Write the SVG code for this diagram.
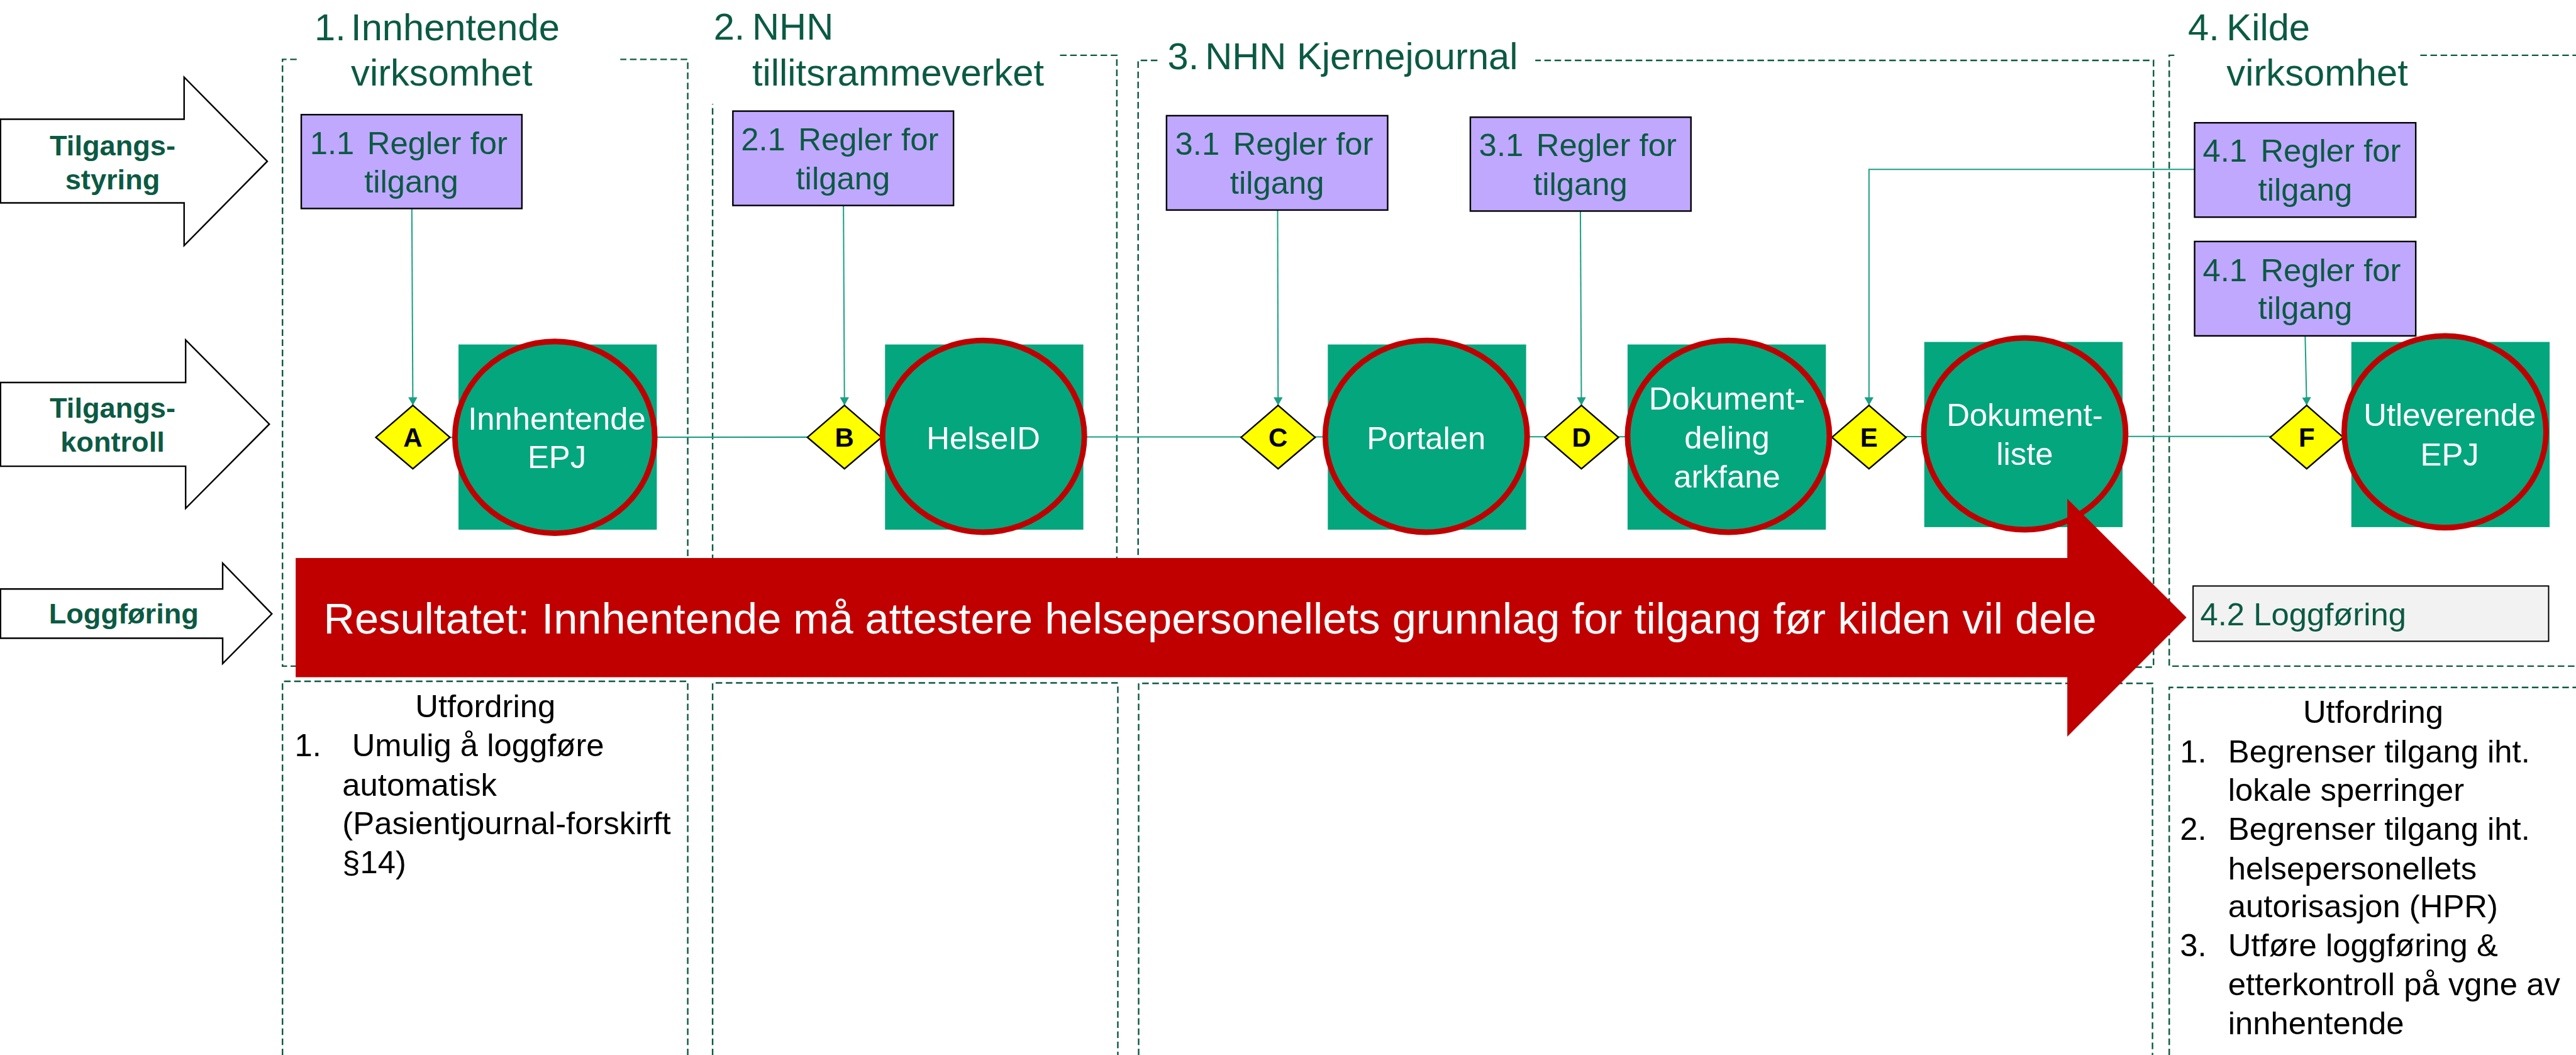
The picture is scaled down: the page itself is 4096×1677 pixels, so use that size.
<svg xmlns="http://www.w3.org/2000/svg" width="4096" height="1677" viewBox="0 0 4096 1677">
<defs>
<style>
.frame{fill:none;stroke:#0B5A43;stroke-width:3;stroke-dasharray:13 7}
.title{font-family:"Liberation Sans",Arial,sans-serif;font-size:74px;fill:#0B5A43}
.side{fill:#fff;stroke:#000;stroke-width:3}
.sidet{font-family:"Liberation Sans",Arial,sans-serif;font-size:56px;font-weight:bold;fill:#0B5A43;text-anchor:middle}
.rule{fill:#C0A8FF;stroke:#000;stroke-width:3}
.rulet{font-family:"Liberation Sans",Arial,sans-serif;font-size:63px;fill:#0B5A43}
.sq{fill:#04A67D}
.ell{fill:#04A67D;stroke:#C00000;stroke-width:11}
.nodet{font-family:"Liberation Sans",Arial,sans-serif;font-size:63px;fill:#fff;text-anchor:middle}
.dia{fill:#FFFF00;stroke:#000;stroke-width:3}
.diat{font-family:"Liberation Sans",Arial,sans-serif;font-size:52px;font-weight:bold;fill:#000;text-anchor:middle}
.conn{fill:none;stroke:#19A083;stroke-width:2.5}
.body{font-family:"Liberation Sans",Arial,sans-serif;font-size:63px;fill:#000}
</style>
<marker id="ah" markerUnits="userSpaceOnUse" markerWidth="16" markerHeight="18" viewBox="0 0 16 18" refX="16" refY="9" orient="auto">
<path d="M0,0 L16,9 L0,18 z" fill="#19A083"/>
</marker>
</defs>
<rect width="4096" height="1677" fill="#fff"/>
<g transform="scale(0.80646)">
<!-- frames -->
<g id="frames">
<path class="frame" d="M585,117 H557 V1313 H1356 V117 H1223"/>
<path class="frame" d="M2090,109 H2202 V1313 H1405 V205"/>
<path class="frame" d="M2282,119 H2244 V1315 H4246 V119 H3027"/>
<path class="frame" d="M4287,109 H4277 V1313 H5100 M4772,109 H5100"/>
<path class="frame" d="M557,2100 V1343 H1356 V2100"/>
<path class="frame" d="M1405,2100 V1346 H2204 V2100"/>
<path class="frame" d="M2245,2100 V1347 H4244 V2100"/>
<path class="frame" d="M4277,2100 V1355 H5100"/>
</g>
<g id="titles">
<text class="title"><tspan x="620" y="79">1.</tspan><tspan x="692" y="79">Innhentende</tspan><tspan x="692" y="169">virksomhet</tspan></text>
<text class="title"><tspan x="1407" y="78">2.</tspan><tspan x="1483" y="78">NHN</tspan><tspan x="1483" y="169">tillitsrammeverket</tspan></text>
<text class="title"><tspan x="2302" y="136">3.</tspan><tspan x="2376" y="136">NHN Kjernejournal</tspan></text>
<text class="title"><tspan x="4314" y="79">4.</tspan><tspan x="4390" y="79">Kilde</tspan><tspan x="4390" y="169">virksomhet</tspan></text>
</g>
<!-- side arrows -->
<g id="arrow-styring">
<path class="side" d="M1,235 H363 V152 L527,318 L363,484 V400 H1 Z"/>
<text class="sidet"><tspan x="222" y="306">Tilgangs-</tspan><tspan x="222" y="373">styring</tspan></text>
</g>
<g id="arrow-kontroll">
<path class="side" d="M1,754 H366 V670 L531,836 L366,1002 V919 H1 Z"/>
<text class="sidet"><tspan x="222" y="823">Tilgangs-</tspan><tspan x="222" y="890">kontroll</tspan></text>
</g>
<g id="arrow-logg">
<path class="side" d="M1,1161 H439 V1110 L536,1210 L439,1308 V1258 H1 Z"/>
<text class="sidet" x="244" y="1229">Loggføring</text>
</g>
<!-- connectors -->
<g id="connectors">
<line class="conn" x1="887" y1="862" x2="4620" y2="860"/>
<line class="conn" x1="812" y1="411" x2="814" y2="799" marker-end="url(#ah)"/>
<line class="conn" x1="1663" y1="405" x2="1665" y2="799" marker-end="url(#ah)"/>
<line class="conn" x1="2519" y1="414" x2="2520" y2="799" marker-end="url(#ah)"/>
<line class="conn" x1="3116" y1="416" x2="3118" y2="799" marker-end="url(#ah)"/>
<path class="conn" d="M4327,334 H3685 V799" marker-end="url(#ah)"/>
<line class="conn" x1="4545" y1="662" x2="4548" y2="799" marker-end="url(#ah)"/>
</g>
<!-- rule boxes -->
<g id="rule-1-1"><rect class="rule" x="594" y="226" width="435" height="185"/><text class="rulet"><tspan x="611" y="304">1.1</tspan><tspan x="724" y="304">Regler for</tspan><tspan x="811" y="379" text-anchor="middle">tilgang</tspan></text></g>
<g id="rule-2-1"><rect class="rule" x="1445" y="219" width="435" height="186"/><text class="rulet"><tspan x="1461" y="296">2.1</tspan><tspan x="1574" y="296">Regler for</tspan><tspan x="1662" y="373" text-anchor="middle">tilgang</tspan></text></g>
<g id="rule-3-1a"><rect class="rule" x="2300" y="228" width="436" height="186"/><text class="rulet"><tspan x="2317" y="305">3.1</tspan><tspan x="2431" y="305">Regler for</tspan><tspan x="2518" y="382" text-anchor="middle">tilgang</tspan></text></g>
<g id="rule-3-1b"><rect class="rule" x="2899" y="231" width="435" height="185"/><text class="rulet"><tspan x="2916" y="308">3.1</tspan><tspan x="3029" y="308">Regler for</tspan><tspan x="3116" y="385" text-anchor="middle">tilgang</tspan></text></g>
<g id="rule-4-1a"><rect class="rule" x="4327" y="242" width="436" height="186"/><text class="rulet"><tspan x="4343" y="319">4.1</tspan><tspan x="4457" y="319">Regler for</tspan><tspan x="4545" y="395" text-anchor="middle">tilgang</tspan></text></g>
<g id="rule-4-1b"><rect class="rule" x="4327" y="476" width="436" height="186"/><text class="rulet"><tspan x="4343" y="554">4.1</tspan><tspan x="4457" y="554">Regler for</tspan><tspan x="4545" y="629" text-anchor="middle">tilgang</tspan></text></g>
<!-- diamonds -->
<g id="diamond-A"><path class="dia" d="M814,799 L887,862 L814,924 L741,862 Z"/><text class="diat" x="814" y="881">A</text></g>
<g id="diamond-B"><path class="dia" d="M1665,799 L1738,862 L1665,924 L1592,862 Z"/><text class="diat" x="1665" y="881">B</text></g>
<g id="diamond-C"><path class="dia" d="M2520,799 L2593,862 L2520,924 L2447,862 Z"/><text class="diat" x="2520" y="881">C</text></g>
<g id="diamond-D"><path class="dia" d="M3118,799 L3191,862 L3118,924 L3046,862 Z"/><text class="diat" x="3118" y="881">D</text></g>
<g id="diamond-E"><path class="dia" d="M3685,799 L3758,862 L3685,924 L3612,862 Z"/><text class="diat" x="3685" y="881">E</text></g>
<g id="diamond-F"><path class="dia" d="M4548,799 L4620,862 L4548,924 L4476,862 Z"/><text class="diat" x="4548" y="881">F</text></g>
<!-- system nodes -->
<g id="node-innhentende-epj"><rect class="sq" x="904" y="679" width="391" height="365"/><ellipse class="ell" cx="1094" cy="862" rx="197" ry="189"/><text class="nodet"><tspan x="1098" y="847">Innhentende</tspan><tspan x="1098" y="922">EPJ</tspan></text></g>
<g id="node-helseid"><rect class="sq" x="1745" y="679" width="391" height="365"/><ellipse class="ell" cx="1939" cy="860" rx="199" ry="189"/><text class="nodet" x="1939" y="885">HelseID</text></g>
<g id="node-portalen"><rect class="sq" x="2618" y="679" width="391" height="365"/><ellipse class="ell" cx="2812" cy="860" rx="199" ry="189"/><text class="nodet" x="2812" y="885">Portalen</text></g>
<g id="node-dokumentdeling"><rect class="sq" x="3209" y="679" width="391" height="365"/><ellipse class="ell" cx="3408" cy="860" rx="199" ry="189"/><text class="nodet"><tspan x="3405" y="807">Dokument-</tspan><tspan x="3405" y="884">deling</tspan><tspan x="3405" y="961">arkfane</tspan></text></g>
<g id="node-dokumentliste"><rect class="sq" x="3794" y="674" width="391" height="365"/><ellipse class="ell" cx="3992" cy="855" rx="199" ry="189"/><text class="nodet"><tspan x="3992" y="840">Dokument-</tspan><tspan x="3992" y="916">liste</tspan></text></g>
<g id="node-utleverende-epj"><rect class="sq" x="4636" y="674" width="391" height="365"/><ellipse class="ell" cx="4821" cy="851" rx="199" ry="189"/><text class="nodet"><tspan x="4830" y="840">Utleverende</tspan><tspan x="4830" y="917">EPJ</tspan></text></g>
<!-- result arrow -->
<g id="result-arrow">
<path d="M583,1100 H4076 V983 L4311,1217 L4076,1452 V1335 H583 Z" fill="#C00000"/>
<text x="638" y="1249" font-family="Liberation Sans, Arial, sans-serif" font-size="85" fill="#fff">Resultatet: Innhentende må attestere helsepersonellets grunnlag for tilgang før kilden vil dele</text>
</g>
<g id="logg-4-2">
<rect x="4324" y="1155" width="701" height="109" fill="#F2F2F2" stroke="#000" stroke-width="2.5"/>
<text class="rulet" x="4338" y="1233">4.2 Loggføring</text>
</g>
<!-- challenges -->
<g id="utfordring-1">
<text class="body" x="957" y="1413" text-anchor="middle">Utfordring</text>
<text class="body"><tspan x="581" y="1491">1.</tspan><tspan x="694" y="1491">Umulig å loggføre</tspan><tspan x="675" y="1568">automatisk</tspan><tspan x="675" y="1644">(Pasientjournal-forskirft</tspan><tspan x="675" y="1721">§14)</tspan></text>
</g>
<g id="utfordring-4">
<text class="body" x="4679" y="1425" text-anchor="middle">Utfordring</text>
<text class="body"><tspan x="4298" y="1503">1.</tspan><tspan x="4393" y="1503">Begrenser tilgang iht.</tspan><tspan x="4393" y="1579">lokale sperringer</tspan><tspan x="4298" y="1656">2.</tspan><tspan x="4393" y="1656">Begrenser tilgang iht.</tspan><tspan x="4393" y="1733">helsepersonellets</tspan><tspan x="4393" y="1808">autorisasjon (HPR)</tspan><tspan x="4298" y="1885">3.</tspan><tspan x="4393" y="1885">Utføre loggføring &amp;</tspan><tspan x="4393" y="1962">etterkontroll på vgne av</tspan><tspan x="4393" y="2039">innhentende</tspan></text>
</g>
</g>
</svg>
